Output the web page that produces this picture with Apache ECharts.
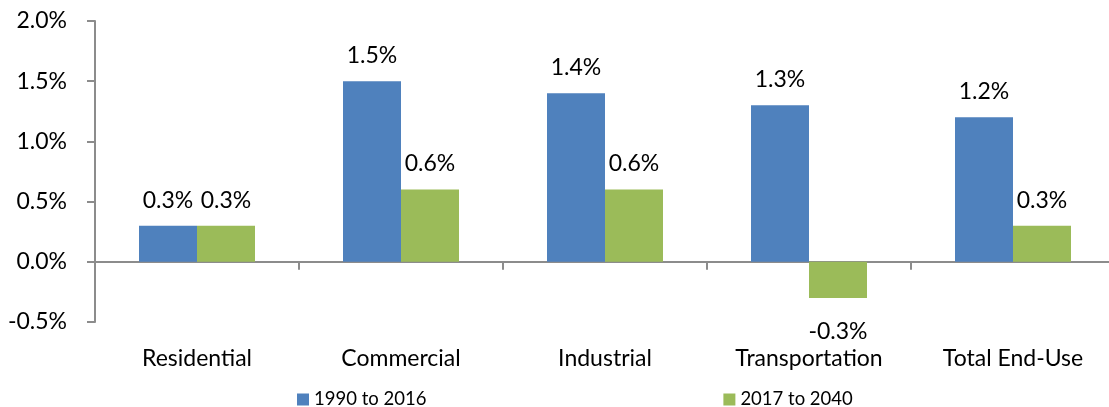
<!DOCTYPE html>
<html>
<head>
<meta charset="utf-8">
<script src="https://cdn.jsdelivr.net/npm/echarts@6/dist/echarts.min.js"></script>
<style>
  html, body { margin: 0; padding: 0; background: #fff; }
  #chart { width: 1109px; height: 407px; }
</style>
</head>
<body>
<div id="chart"></div>
<script>
// Average annual growth rates by end-use sector (percent)
const categories = ['Residential', 'Commercial', 'Industrial', 'Transportation', 'Total End-Use'];
const seriesNames = ['1990 to 2016', '2017 to 2040'];
const historical = [0.3, 1.5, 1.4, 1.3, 1.2];
const projected = [0.3, 0.6, 0.6, -0.3, 0.3];
const yTicks = { min: -0.5, max: 2.0, step: 0.5 };

const FONT = 'Lato, "Open Sans", sans-serif';
const AXIS_GRAY = '#8c8c8c';
const fmt = v => v.toFixed(1) + '%';

function withLabels(values) {
  return values.map(v => ({
    value: v,
    label: { position: v < 0 ? 'bottom' : 'top', distance: v < 0 ? 22 : 14 }
  }));
}

const labelStyle = {
  show: true,
  fontFamily: FONT,
  fontSize: 23,
  color: '#000',
  formatter: p => fmt(p.value)
};

const chart = echarts.init(document.getElementById('chart'), null, { renderer: 'canvas' });
chart.setOption({
  animation: false,
  backgroundColor: '#fff',
  grid: { left: 95, right: -6, top: 21, bottom: 85, containLabel: false, outerBoundsMode: 'none' },
  legend: {
    data: seriesNames,
    left: 292,
    top: 385,
    icon: 'rect',
    itemWidth: 12,
    itemHeight: 12,
    itemGap: 297,
    textStyle: { fontFamily: FONT, fontSize: 18.5, color: '#000' }
  },
  xAxis: {
    type: 'category',
    data: categories,
    axisLine: { onZero: true, lineStyle: { color: AXIS_GRAY, width: 2 } },
    axisTick: { show: true, alignWithLabel: false, length: 8, lineStyle: { color: AXIS_GRAY, width: 2 } },
    axisLabel: { fontFamily: FONT, fontSize: 23, color: '#000', margin: 25 },
    splitLine: { show: false }
  },
  yAxis: {
    type: 'value',
    min: yTicks.min,
    max: yTicks.max,
    interval: yTicks.step,
    axisLine: { show: true, lineStyle: { color: AXIS_GRAY, width: 2 } },
    axisTick: { show: true, length: 8, lineStyle: { color: AXIS_GRAY, width: 2 } },
    axisLabel: { fontFamily: FONT, fontSize: 23, color: '#000', margin: 28, formatter: fmt },
    splitLine: { show: false }
  },
  series: [
    {
      name: seriesNames[0],
      type: 'bar',
      data: withLabels(historical),
      barWidth: 58,
      barGap: '0%',
      itemStyle: { color: '#4F81BD' },
      label: labelStyle
    },
    {
      name: seriesNames[1],
      type: 'bar',
      data: withLabels(projected),
      barWidth: 58,
      barGap: '0%',
      itemStyle: { color: '#9BBB59' },
      label: labelStyle
    }
  ]
});
</script>
</body>
</html>
